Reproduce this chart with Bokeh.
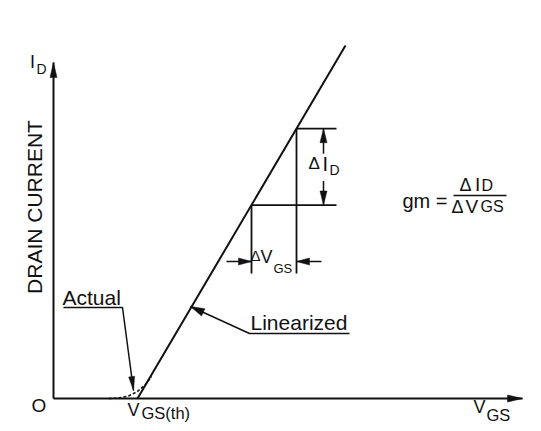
import math
from bokeh.plotting import figure
from bokeh.models import Range1d
from bokeh.core.properties import value
from bokeh.embed import file_html
from bokeh.resources import INLINE

FONT = "Liberation Sans"
INK = "#111111"
TEXT_DY = -7   # compensation of the svg text baseline placement

# ---------------- schematic values (picture units: x to the right, y downward) ----------------
origin = [53, 398]
x_axis_tip = [522, 398]
y_axis_tip = [53, 62]

linear_x = [137, 345]          # linearized I_D(V_GS) line
linear_y = [398, 45]

actual_x = [108, 118, 128, 137, 145, 151]   # measured (actual) curve near threshold
actual_y = [398, 397.5, 395.5, 391, 384, 376]

delta_vgs = [251, 296]         # the two V_GS points of the slope triangle

actual_leader_x = [63, 122, 133]
actual_leader_y = [307, 307, 390]
linear_leader_x = [349, 249, 190]
linear_leader_y = [333, 333, 306]

# texts
t_axis_y, t_axis_y_sub = "I", "D"
t_axis_name = "DRAIN CURRENT"
t_origin = "O"
t_vth, t_vth_sub = "V", "GS(th)"
t_axis_x, t_axis_x_sub = "V", "GS"
t_actual = "Actual"
t_linear = "Linearized"
t_delta = "Δ"
t_gm = "gm ="


def line_y_at(x):
    return linear_y[0] + (x - linear_x[0]) * (linear_y[1] - linear_y[0]) / (linear_x[1] - linear_x[0])


def head(tip, tail, length, width):
    dx, dy = tip[0] - tail[0], tip[1] - tail[1]
    n = math.hypot(dx, dy)
    ux, uy = dx / n, dy / n
    bx, by = tip[0] - ux * length, tip[1] - uy * length
    px, py = -uy * width / 2, ux * width / 2
    return [tip[0], bx + px, bx - px], [tip[1], by + py, by - py]


p = figure(width=541, height=431, x_range=Range1d(0, 541), y_range=Range1d(431, 0),
           output_backend="svg", toolbar_location=None, min_border=0,
           x_axis_type=None, y_axis_type=None)
p.outline_line_color = None
p.background_fill_color = "white"
p.border_fill_color = "white"

heads_x, heads_y = [], []

# axes
p.line([origin[0], x_axis_tip[0]], [origin[1], x_axis_tip[1]], line_color=INK, line_width=2)
p.line([origin[0], y_axis_tip[0]], [origin[1], y_axis_tip[1]], line_color=INK, line_width=2)
for tip in (x_axis_tip, y_axis_tip):
    hx, hy = head(tip, origin, 15, 7)
    heads_x.append(hx); heads_y.append(hy)

# linearized line and actual curve
p.line(linear_x, linear_y, line_color=INK, line_width=2)
p.line(actual_x, actual_y, line_color=INK, line_width=1.6, line_dash="3 2")

# leaders
p.line(actual_leader_x, actual_leader_y, line_color=INK, line_width=1.5)
hx, hy = head([actual_leader_x[2], actual_leader_y[2]], [actual_leader_x[1], actual_leader_y[1]], 14, 6)
heads_x.append(hx); heads_y.append(hy)
p.line(linear_leader_x, linear_leader_y, line_color=INK, line_width=1.5)
hx, hy = head([linear_leader_x[2], linear_leader_y[2]], [linear_leader_x[1], linear_leader_y[1]], 14, 8)
heads_x.append(hx); heads_y.append(hy)

# slope triangle construction
v_lo, v_hi = delta_vgs
i_lo, i_hi = line_y_at(v_lo), line_y_at(v_hi)
ext_right = v_hi + 40
ext_down = 273
p.multi_line([[v_lo, ext_right], [v_hi, ext_right], [v_hi, v_hi], [v_lo, v_lo]],
             [[i_lo, i_lo], [i_hi, i_hi], [i_hi, ext_down], [i_lo, ext_down]],
             line_color=INK, line_width=1.8)

# dimension arrows for delta I_D
dim_x = v_hi + 27
p.multi_line([[dim_x, dim_x], [dim_x, dim_x]], [[i_hi + 25, i_hi], [i_lo - 24, i_lo]],
             line_color=INK, line_width=1.5)
for tip, tail in (([dim_x, i_hi], [dim_x, i_hi + 25]), ([dim_x, i_lo], [dim_x, i_lo - 24])):
    hx, hy = head(tip, tail, 14, 7)
    heads_x.append(hx); heads_y.append(hy)

# dimension arrows for delta V_GS
dim_y = 261
p.multi_line([[v_lo - 25, v_lo], [v_hi + 25, v_hi]], [[dim_y, dim_y], [dim_y, dim_y]],
             line_color=INK, line_width=1.5)
for tip, tail in (([v_lo, dim_y], [v_lo - 25, dim_y]), ([v_hi, dim_y], [v_hi + 25, dim_y])):
    hx, hy = head(tip, tail, 13, 7)
    heads_x.append(hx); heads_y.append(hy)

p.patches(heads_x, heads_y, fill_color=INK, line_color=INK, line_width=0.5)

# fraction bar of gm formula
p.line([453, 506], [195, 195], line_color=INK, line_width=1.5)


def txt(s, x, y, size, align="left", baseline="alphabetic", angle=0.0, dy=TEXT_DY):
    p.text([x], [y + dy], text=[s], text_font=value(FONT), text_font_size=f"{size}px",
           text_color=INK, text_align=align, text_baseline=baseline, angle=angle)


txt(t_axis_y, 29.5, 68, 18)
txt(t_axis_y_sub, 36, 75, 14)
txt(t_axis_name, 33.5, 206.5, 21, align="center", baseline="middle", angle=math.pi / 2, dy=0)
txt(t_origin, 31, 412, 19)
txt(t_vth, 127, 416, 18)
txt(t_vth_sub, 141, 419, 16.5)
txt(t_axis_x, 473, 413, 18)
txt(t_axis_x_sub, 486, 421, 16.5)
txt(t_actual, 62, 304, 21)
txt(t_linear, 250, 329, 21)

# delta I_D
txt(t_delta, 308, 170, 17)
txt(t_axis_y, 322, 170, 20)
txt(t_axis_y_sub, 329, 176, 14)
# delta V_GS
txt(t_delta, 250, 262, 15)
txt(t_vth, 260, 263, 18)
txt(t_axis_x_sub, 273, 275, 13)

# gm formula
txt(t_gm, 402, 207, 20)
txt(t_delta, 459, 191, 18)
txt(t_axis_y, 474.5, 191, 19)
txt(t_axis_y_sub, 481, 192, 16)
txt(t_delta, 451, 213, 18)
txt(t_vth, 465, 213, 19)
txt(t_axis_x_sub, 480, 213, 16)

open("out.html", "w").write(file_html(p, INLINE))
